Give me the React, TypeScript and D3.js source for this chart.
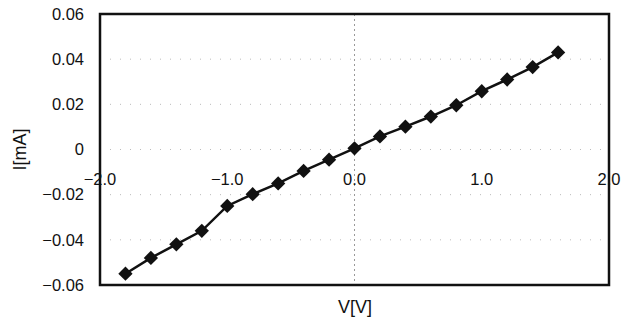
import React from "react";
import * as d3 from "d3";

const voltages = [-1.8, -1.6, -1.4, -1.2, -1.0, -0.8, -0.6, -0.4, -0.2, 0.0, 0.2, 0.4, 0.6, 0.8, 1.0, 1.2, 1.4, 1.6];
const currents = [-0.055, -0.048, -0.042, -0.036, -0.025, -0.0198, -0.015, -0.0095, -0.0045, 0.0005, 0.0058, 0.0101, 0.0146, 0.0196, 0.0258, 0.031, 0.0365, 0.043];
const xTicks = [-2.0, -1.0, 0.0, 1.0, 2.0];
const yTicks = [0.06, 0.04, 0.02, 0, -0.02, -0.04, -0.06];

const W = 623;
const H = 326;

const App = () => {
    const x = d3.scaleLinear().domain([-2, 2]).range([100, 609]);
    const y = d3.scaleLinear().domain([-0.06, 0.06]).range([285, 14]);

    const pts = voltages.map((v, i) => [x(v), y(currents[i])] as [number, number]);
    const line = d3.line();
    const diamond = d3.symbol().type(d3.symbolDiamond2).size(130);
    const font = "'Liberation Sans', Arial, sans-serif";

    const yLabel = (t: number) => (t === 0 ? "0" : t.toFixed(2).replace("-", "\u2212"));
    const xLabel = (t: number) => t.toFixed(1).replace("-", "\u2212");

    return (
        <svg width={W} height={H} style={{ position: "absolute", left: 0, top: 0, background: "#fff" }}>
            {/* grid */}
            {yTicks.filter((t) => t !== 0.06 && t !== -0.06).map((t) => (
                <line key={"g" + t} x1={x(-2)} x2={x(2)} y1={y(t)} y2={y(t)}
                    stroke="#bbb" strokeWidth={1} strokeDasharray="1 9" />
            ))}
            <line x1={x(0)} x2={x(0)} y1={y(0.06)} y2={y(-0.06)} stroke="#999" strokeWidth={1} strokeDasharray="2 3" />

            {/* frame */}
            <rect x={x(-2)} y={y(0.06)} width={x(2) - x(-2)} height={y(-0.06) - y(0.06)}
                fill="none" stroke="#111" strokeWidth={2.5} />

            {/* y tick labels */}
            {yTicks.map((t) => (
                <text key={"y" + t} x={84} y={y(t)} dy="0.35em" textAnchor="end"
                    fontFamily={font} fontSize={16.5} fill="#111">{yLabel(t)}</text>
            ))}

            {/* x tick labels */}
            {xTicks.map((t) => (
                <text key={"x" + t} x={x(t)} y={y(0) + 35} textAnchor="middle"
                    fontFamily={font} fontSize={16.5} fill="#111">{xLabel(t)}</text>
            ))}

            {/* data */}
            <path d={line(pts) ?? ""} fill="none" stroke="#111" strokeWidth={2.5} />
            {pts.map((p, i) => (
                <path key={i} d={diamond() ?? ""} transform={`translate(${p[0]},${p[1]})`} fill="#111" />
            ))}

            {/* axis titles */}
            <text x={355} y={313} textAnchor="middle" fontFamily={font} fontSize={18} fill="#111">V[V]</text>
            <text transform={`translate(26,${y(0)}) rotate(-90)`} textAnchor="middle"
                fontFamily={font} fontSize={18} fill="#111">I[mA]</text>
        </svg>
    );
};

export default App;
